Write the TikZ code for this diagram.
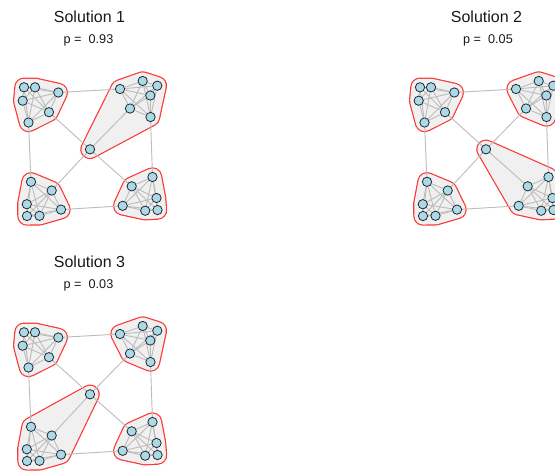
\documentclass[tikz,border=0pt]{standalone}
\usepackage{fontspec}
\setmainfont{Liberation Sans}
\pgfdeclarelayer{hulls}
\pgfdeclarelayer{edges}
\pgfsetlayers{hulls,edges,main}
\definecolor{hullfill}{HTML}{F0F0F0}
\definecolor{hullline}{HTML}{FF3535}
\definecolor{vfill}{HTML}{ADD8E6}
\definecolor{vline}{HTML}{1E2A30}
\definecolor{eline}{HTML}{BDBDBD}
\tikzset{
  vtx/.style={circle, draw=vline, fill=vfill, line width=0.6pt, minimum size=7pt, inner sep=0pt},
  lnk/.style={draw=eline, line width=0.7pt},
  hullout/.style={draw=hullline, fill=hullline, line width=14.6pt, line join=round},
  hullin/.style={draw=hullfill, fill=hullfill, line width=12.8pt, line join=round},
  ttl/.style={font=\fontsize{12}{14}\selectfont, inner sep=0pt, text=black!90},
  pval/.style={font=\fontsize{9.5}{11}\selectfont, inner sep=0pt, text=black!90}
}
\newcommand\hullpath[1]{\path[hullout] #1 -- cycle; \path[hullin] #1 -- cycle;}
\newcommand\graphbody[1]{%
  \node[vtx] (a1) at (24,87.3) {};
  \node[vtx] (a2) at (35,87.3) {};
  \node[vtx] (a3) at (58.3,92.5) {};
  \node[vtx] (a4) at (22.7,100.7) {};
  \node[vtx] (a5) at (49,112.2) {};
  \node[vtx] (a6) at (28.5,122.5) {};
  \node[vtx] (b1) at (120,89) {};
  \node[vtx] (b2) at (142.7,81) {};
  \node[vtx] (b3) at (157.3,85.7) {};
  \node[vtx] (b4) at (150.3,95.5) {};
  \node[vtx] (b5) at (130,108.5) {};
  \node[vtx] (b6) at (150.5,117) {};
  \node[vtx] (c) at (90,149.3) {};
  \node[vtx] (d1) at (31,181.8) {};
  \node[vtx] (d2) at (51.7,190.5) {};
  \node[vtx] (d3) at (26.8,204.2) {};
  \node[vtx] (d4) at (61,209.6) {};
  \node[vtx] (d5) at (27,216) {};
  \node[vtx] (d6) at (39.5,215.8) {};
  \node[vtx] (e1) at (152.5,177) {};
  \node[vtx] (e2) at (131.7,186.3) {};
  \node[vtx] (e3) at (156.5,198) {};
  \node[vtx] (e4) at (122.7,205.8) {};
  \node[vtx] (e5) at (145.2,210.7) {};
  \node[vtx] (e6) at (157.5,210) {};
  \begin{pgfonlayer}{edges}
    \clipcanvas
    \foreach \g in {a,b,d,e}{
      \foreach \i in {1,...,5}{
        \pgfmathtruncatemacro\j{\i+1}
        \foreach \k in {\j,...,6}{\draw[lnk] (\g\i) -- (\g\k);}
      }
    }
    \draw[lnk] (a3) -- (b1);
    \draw[lnk] (a6) -- (d1);
    \draw[lnk] (b6) -- (e1);
    \draw[lnk] (d4) -- (e4);
    \draw[lnk] (c) -- (a5);
    \draw[lnk] (c) -- (b5);
    \draw[lnk] (c) -- (d2);
    \draw[lnk] (c) -- (e2);
  \end{pgfonlayer}
  \begin{pgfonlayer}{hulls}
    \clipcanvas
    #1
  \end{pgfonlayer}
}
\newcommand\hullA{\hullpath{(a1.center) -- (a2.center) -- (a3.center) -- (a5.center) -- (a6.center) -- (a4.center)}}
\newcommand\hullB{\hullpath{(b1.center) -- (b2.center) -- (b3.center) -- (b6.center) -- (b5.center)}}
\newcommand\hullBc{\hullpath{(c.center) -- (b1.center) -- (b2.center) -- (b3.center) -- (b6.center)}}
\newcommand\hullD{\hullpath{(d1.center) -- (d2.center) -- (d4.center) -- (d6.center) -- (d5.center) -- (d3.center)}}
\newcommand\hullDc{\hullpath{(c.center) -- (d4.center) -- (d6.center) -- (d5.center) -- (d3.center) -- (d1.center)}}
\newcommand\hullE{\hullpath{(e1.center) -- (e3.center) -- (e6.center) -- (e5.center) -- (e4.center) -- (e2.center)}}
\newcommand\hullEc{\hullpath{(c.center) -- (e1.center) -- (e3.center) -- (e6.center) -- (e5.center) -- (e4.center)}}
\begin{document}
\begin{tikzpicture}[x=0.75pt, y=-0.75pt]
  \useasboundingbox (0,0) rectangle (555,472);
  \clip (0,0) rectangle (555,472);
  % Solution 1
  \begin{scope}[name prefix=s1-]
    \def\clipcanvas{}
    \node[ttl] (title) at (89.5,17) {Solution 1};
    \node[pval] (pv) at (88.5,40) {p =\ \ 0.93};
    \graphbody{\hullA \hullBc \hullD \hullE}
  \end{scope}
  % Solution 2
  \begin{scope}[shift={(396,0)}, name prefix=s2-]
    \def\clipcanvas{\clip (-396,0) rectangle (159,472);}
    \node[ttl] (title) at (90.5,17) {Solution 2};
    \node[pval] (pv) at (92,40) {p =\ \ 0.05};
    \graphbody{\hullA \hullB \hullD \hullEc}
  \end{scope}
  % Solution 3
  \begin{scope}[shift={(0,245)}, name prefix=s3-]
    \def\clipcanvas{}
    \node[ttl] (title) at (89.5,17) {Solution 3};
    \node[pval] (pv) at (88.5,40) {p =\ \ 0.03};
    \graphbody{\hullA \hullB \hullDc \hullE}
  \end{scope}
\end{tikzpicture}
\end{document}
